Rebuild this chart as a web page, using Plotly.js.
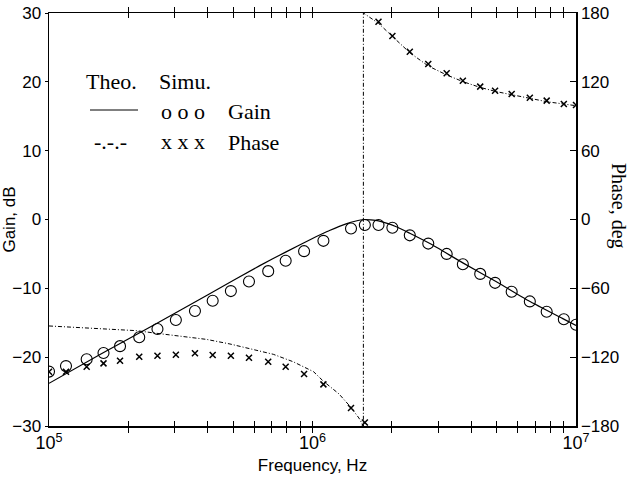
<!DOCTYPE html>
<html><head><meta charset="utf-8">
<script src="https://cdn.plot.ly/plotly-3.0.1.min.js"></script>
<style>html,body{margin:0;padding:0;background:#fff}</style>
</head><body><div id="chart" style="width:629px;height:479px"></div>
<script>
// Theoretical gain (solid line)
const freqTheoGain = [1.00e5, 1.58e5, 2.51e5, 3.98e5, 6.31e5, 7.94e5, 1.00e6, 1.10e6, 1.16e6, 1.35e6, 1.45e6, 1.56e6, 1.78e6, 2.08e6, 2.34e6, 2.79e6, 3.72e6, 4.97e6, 6.61e6, 8.91e6, 1.00e7];
const gainTheo     = [-23.8, -19.5, -15.3, -11.0, -6.7, -4.7, -2.75, -2.0, -1.6, -0.6, -0.25, 0.0, -0.2, -1.05, -2.0, -3.5, -6.3, -9.0, -11.8, -14.4, -15.4];
// Theoretical phase (dash-dot line)
const freqTheoPhase = [1.00e5, 1.56e5, 2.15e5, 2.56e5, 3.14e5, 3.96e5, 4.86e5, 5.96e5, 7.10e5, 8.45e5, 1.01e6, 1.10e6, 1.26e6, 1.39e6, 1.50e6, 1.56e6, 1.56e6, 1.78e6, 2.03e6, 2.34e6, 2.75e6, 3.23e6, 3.73e6, 4.32e6, 5.00e6, 5.78e6, 6.68e6, 7.74e6, 8.95e6, 1.00e7];
const phaseTheo     = [-92.8, -94.9, -96.9, -99.2, -101.6, -104.5, -108.5, -113.2, -117.5, -124.0, -132.7, -141, -152, -163, -173, -180, 180, 171, 158.8, 145.4, 133.8, 126.0, 120.1, 115.2, 111.4, 108.5, 105.6, 102.7, 100.7, 99.2];
// Simulated (markers)
const freqSim  = [1.00e5, 1.16e5, 1.39e5, 1.61e5, 1.86e5, 2.20e5, 2.58e5, 3.03e5, 3.58e5, 4.18e5, 4.90e5, 5.74e5, 6.79e5, 7.91e5, 9.29e5, 1.10e6, 1.40e6, 1.58e6, 1.78e6, 2.01e6, 2.34e6, 2.75e6, 3.23e6, 3.72e6, 4.33e6, 4.93e6, 5.70e6, 6.68e6, 7.74e6, 8.99e6, 1.00e7];
const gainSim  = [-22.1, -21.3, -20.3, -19.4, -18.4, -17.1, -15.9, -14.6, -13.3, -11.8, -10.4, -9.0, -7.5, -6.0, -4.6, -3.1, -1.3, -0.8, -0.8, -1.2, -2.3, -3.5, -5.0, -6.5, -7.9, -9.2, -10.5, -11.9, -13.4, -14.5, -15.3];
const phaseSim = [-132.7, -132.7, -128.3, -125.4, -123.1, -119.6, -118.7, -117.9, -116.6, -118.1, -118.7, -120.5, -124.0, -128.3, -134.7, -143.7, -164.3, -177.0, 172.4, 160.0, 146.3, 135.5, 127.4, 121.0, 115.8, 112.3, 109.4, 106.2, 103.6, 100.7, 99.8];

const gainRange = [-30, 30];
const phaseRange = [-180, 180];
const xRangeLog = [5, 7];
// x ticks: decades labelled, intermediate (2..9) ticks unlabelled
const xTickVals = [1e5, 2e5, 3e5, 4e5, 5e5, 6e5, 7e5, 8e5, 9e5, 1e6, 2e6, 3e6, 4e6, 5e6, 6e6, 7e6, 8e6, 9e6, 1e7];
const xTickText = ['10<sup>5</sup>', '', '', '', '', '', '', '', '', '10<sup>6</sup>', '', '', '', '', '', '', '', '', '10<sup>7</sup>'];

// layout helpers (pixel -> paper)
const L = 49, R = 53, T = 13, B = 53, W = 629, H = 479;
const pw = W - L - R, ph = H - T - B;
const px = x => (x - L) / pw;
const py = y => (H - B - y) / ph;

const serif = 'Liberation Serif, Times New Roman, serif';
const sans = 'Liberation Sans, Arial, sans-serif';

const traces = [
  {x: freqTheoGain, y: gainTheo, type: 'scatter', mode: 'lines', line: {color: '#000', width: 1.2, shape: 'spline', smoothing: 0.5}, yaxis: 'y', hoverinfo: 'skip'},
  {x: freqTheoPhase, y: phaseTheo, type: 'scatter', mode: 'lines', line: {color: '#000', width: 1, dash: '4px,2px,1px,2px'}, yaxis: 'y2', hoverinfo: 'skip'},
  {x: freqSim, y: gainSim, type: 'scatter', mode: 'markers', marker: {symbol: 'circle-open', size: 11, color: '#000', line: {width: 1.1, color: '#000'}}, yaxis: 'y'},
  {x: freqSim, y: phaseSim, type: 'scatter', mode: 'markers', marker: {symbol: 'x-thin-open', size: 6, color: '#000', line: {width: 1.5, color: '#000'}}, yaxis: 'y2'}
];

function ann(text, x, y, size, extra) {
  return Object.assign({text: text, xref: 'paper', yref: 'paper', x: px(x), y: py(y), xanchor: 'left', yanchor: 'middle', showarrow: false, font: {family: serif, size: size, color: '#000'}}, extra || {});
}

const layout = {
  width: W, height: H,
  margin: {l: L, r: R, t: T, b: B},
  paper_bgcolor: '#fff', plot_bgcolor: '#fff',
  showlegend: false,
  font: {family: sans, size: 17, color: '#000'},
  xaxis: {
    type: 'log', range: xRangeLog, tickmode: 'array', tickvals: xTickVals, ticktext: xTickText,
    ticks: 'inside', ticklen: 5, tickwidth: 1, tickcolor: '#000',
    showline: true, linecolor: '#000', linewidth: 1.5, mirror: 'allticks',
    showgrid: false, zeroline: false,
    tickfont: {family: sans, size: 18},
    title: {text: 'Frequency, Hz', font: {family: sans, size: 17}, standoff: 7}
  },
  yaxis: {
    range: gainRange, dtick: 10, ticks: 'outside', ticklen: 3, tickwidth: 1, tickcolor: '#000',
    showline: true, linecolor: '#000', linewidth: 1.5,
    showgrid: false, zeroline: false,
    tickfont: {family: sans, size: 17},
    title: {text: 'Gain, dB', font: {family: sans, size: 17}, standoff: 2}
  },
  yaxis2: {
    range: phaseRange, dtick: 60, overlaying: 'y', side: 'right',
    ticks: 'inside', ticklen: 6, tickwidth: 1, tickcolor: '#000',
    showline: true, linecolor: '#000', linewidth: 1.5,
    showgrid: false, zeroline: false,
    tickfont: {family: sans, size: 17}
  },
  shapes: [
    {type: 'line', xref: 'paper', yref: 'paper', x0: px(90), x1: px(138), y0: py(110), y1: py(110), line: {color: '#000', width: 1}}
  ],
  annotations: [
    ann('Theo.', 84, 81, 22),
    ann('Simu.', 157, 81, 22),
    ann('o o o', 159, 111, 22),
    ann('Gain', 226, 111, 22),
    ann('-.-.-', 92, 141, 22),
    ann('x x x', 159, 141, 22),
    ann('Phase', 226, 142, 22),
    {text: 'Phase, deg', xref: 'paper', yref: 'paper', x: px(619), y: py(206), xanchor: 'center', yanchor: 'middle', textangle: 90, showarrow: false, font: {family: serif, size: 20, color: '#000'}}
  ]
};

Plotly.newPlot('chart', traces, layout, {displayModeBar: false, staticPlot: true});
</script>
</body></html>
